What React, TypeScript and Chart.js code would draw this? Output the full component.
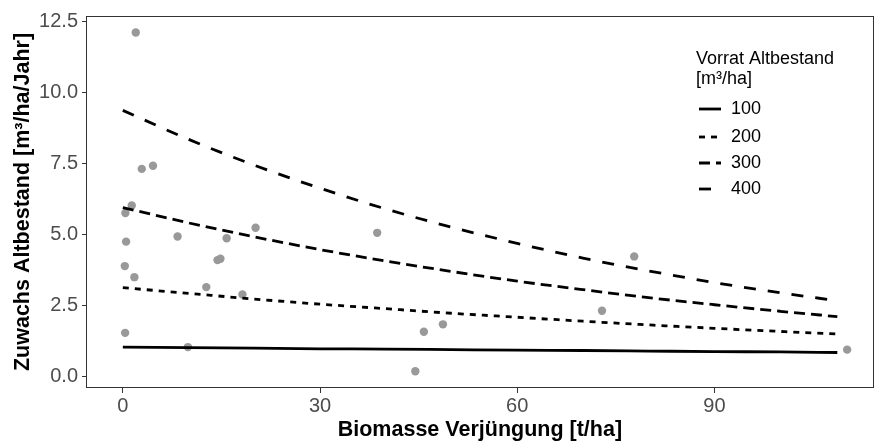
import React, { useEffect, useRef } from "react";
import { Chart, registerables } from "chart.js";

Chart.register(...registerables);

// Observed points: Biomasse Verjüngung [t/ha] vs Zuwachs Altbestand [m³/ha/Jahr]
const pointX = [1.97, 2.88, 4.59, 1.36, 0.39, 0.5, 8.33, 15.8, 20.2, 0.3, 1.76, 14.4, 14.85, 12.7, 18.2, 0.35, 9.9, 38.7, 45.8, 48.7, 44.5, 72.9, 77.8, 110.2];
const pointY = [12.12, 7.32, 7.43, 6.03, 5.77, 4.76, 4.94, 4.88, 5.25, 3.9, 3.51, 4.11, 4.16, 3.16, 2.9, 1.55, 1.05, 5.07, 1.59, 1.85, 0.2, 2.33, 4.24, 0.96];

// Model curves, sampled along Biomasse Verjüngung
const curveX = [0, 10, 20, 30, 40, 50, 60, 70, 80, 90, 100, 108.7];
const curve100 = [1.05, 1.03, 1.01, 0.99, 0.98, 0.96, 0.94, 0.93, 0.91, 0.89, 0.88, 0.86];
const curve200 = [3.14, 2.94, 2.74, 2.56, 2.4, 2.24, 2.1, 1.96, 1.83, 1.71, 1.6, 1.51];
const curve300 = [5.96, 5.42, 4.93, 4.48, 4.08, 3.71, 3.37, 3.07, 2.79, 2.54, 2.31, 2.12];
const curve400 = [9.38, 8.36, 7.45, 6.64, 5.91, 5.27, 4.7, 4.18, 3.73, 3.32, 2.96, 2.68];

const seriesLabels = ["100", "200", "300", "400"];
const seriesDash: number[][] = [[], [6, 6], [11, 6], [12, 12]];

const xTicks = [0, 30, 60, 90];
const yTicks = [0, 2.5, 5, 7.5, 10, 12.5];

const FONT = '"Liberation Sans", Arial, sans-serif';

const legendPlugin = {
  id: "customLegend",
  afterDraw(chart: any) {
    const ctx = chart.ctx as CanvasRenderingContext2D;
    ctx.save();
    ctx.fillStyle = "#000";
    ctx.font = `18px ${FONT}`;
    ctx.textBaseline = "middle";
    ctx.textAlign = "left";
    ctx.fillText("Vorrat Altbestand", 696, 59);
    ctx.fillText("[m³/ha]", 696, 79);
    const ys = [109, 137, 163, 189];
    seriesLabels.forEach((lab, i) => {
      ctx.strokeStyle = "#000";
      ctx.lineWidth = 2.8;
      ctx.setLineDash(seriesDash[i]);
      ctx.beginPath();
      ctx.moveTo(699, ys[i]);
      ctx.lineTo(721, ys[i]);
      ctx.stroke();
      ctx.setLineDash([]);
      ctx.fillText(lab, 731, ys[i]);
    });
    ctx.restore();
  },
};

const borderPlugin = {
  id: "panelBorder",
  afterDatasetsDraw(chart: any) {
    const { ctx, chartArea } = chart;
    ctx.save();
    ctx.strokeStyle = "#333333";
    ctx.lineWidth = 1;
    ctx.strokeRect(
      Math.round(chartArea.left) - 0.5,
      Math.round(chartArea.top) + 0.5,
      Math.round(chartArea.right - chartArea.left) + 1,
      Math.round(chartArea.bottom - chartArea.top) - 1
    );
    ctx.restore();
  },
};

export default function App() {
  const ref = useRef<HTMLCanvasElement | null>(null);

  useEffect(() => {
    document.body.style.margin = "0";
    const curves = [curve100, curve200, curve300, curve400];
    const lineSets = curves.map((c, i) => ({
      type: "line" as const,
      label: seriesLabels[i],
      data: curveX.map((x, j) => ({ x, y: c[j] })),
      borderColor: "#000000",
      borderWidth: 2.8,
      borderDash: seriesDash[i],
      pointRadius: 0,
      tension: 0.4,
      cubicInterpolationMode: "monotone" as const,
      fill: false,
      order: 1,
    }));
    const chart = new Chart(ref.current!, {
      type: "scatter",
      data: {
        datasets: [
          {
            type: "scatter",
            label: "obs",
            data: pointX.map((x, i) => ({ x, y: pointY[i] })),
            backgroundColor: "#999999",
            borderWidth: 0,
            pointRadius: 4.2,
            order: 2,
          } as any,
          ...lineSets,
        ],
      },
      options: {
        animation: false,
        responsive: false,
        maintainAspectRatio: false,
        devicePixelRatio: 1,
        layout: { padding: { top: 12, right: 1, left: 0, bottom: 0 } },
        plugins: { legend: { display: false }, tooltip: { enabled: false } },
        scales: {
          x: {
            type: "linear",
            min: -5.45,
            max: 114.1,
            afterBuildTicks: (s: any) => {
              s.ticks = xTicks.map((v) => ({ value: v }));
            },
            afterFit: (s: any) => {
              s.height = 56;
            },
            ticks: {
              font: { family: FONT, size: 20 },
              color: "#4d4d4d",
              padding: 1,
              maxRotation: 0,
              callback: (v: any) => String(v),
            },
            grid: { display: true, drawOnChartArea: false, tickLength: 5, color: "#333333", tickColor: "#333333" },
            border: { display: false },
            title: {
              display: true,
              text: "Biomasse Verjüngung [t/ha]",
              font: { family: FONT, size: 21.5, weight: "bold" },
              color: "#000",
              padding: { top: 0, bottom: 1 },
            },
          },
          y: {
            type: "linear",
            min: -0.39,
            max: 12.7,
            afterBuildTicks: (s: any) => {
              s.ticks = yTicks.map((v) => ({ value: v }));
            },
            afterFit: (s: any) => {
              s.width = 87;
            },
            ticks: {
              font: { family: FONT, size: 20 },
              color: "#4d4d4d",
              padding: 4,
              callback: (v: any) => Number(v).toFixed(1),
            },
            grid: { display: true, drawOnChartArea: false, tickLength: 5, color: "#333333", tickColor: "#333333" },
            border: { display: false },
            title: {
              display: true,
              text: "Zuwachs Altbestand [m³/ha/Jahr]",
              font: { family: FONT, size: 21.5, weight: "bold" },
              color: "#000",
              padding: { top: 10, bottom: 0 },
            },
          },
        },
      },
      plugins: [borderPlugin, legendPlugin],
    } as any);
    return () => chart.destroy();
  }, []);

  return (
    <div style={{ width: 877, height: 444, background: "#fff" }}>
      <canvas ref={ref} width={877} height={444} style={{ display: "block", width: 877, height: 444 }} />
    </div>
  );
}
